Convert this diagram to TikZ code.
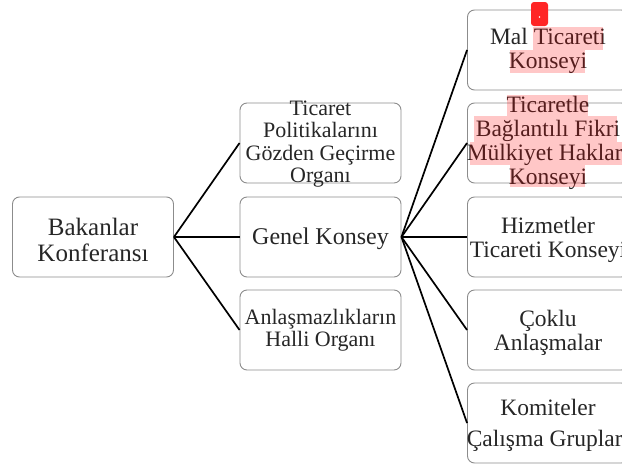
\documentclass[tikz,border=0pt]{standalone}
\usepackage{fontspec}
\setmainfont{Liberation Serif}
\begin{document}
\begin{tikzpicture}[x=1pt,y=-1pt,
  box/.style={draw=black!45,line width=0.9pt,rounded corners=7pt,minimum width=161pt,minimum height=80pt,inner sep=0pt},
  bigtxt/.style={align=center,font=\fontsize{25}{26}\selectfont,text=black!85},
  midtxt/.style={align=center,font=\fontsize{22}{22.5}\selectfont,text=black!85},
  righttxt/.style={align=center,font=\fontsize{23.5}{24}\selectfont,text=black!85},
  link/.style={line width=1.7pt,black},
  hl/.style={fill=red,opacity=0.22}]
\useasboundingbox (0,0) rectangle (622,464);
\clip (0,0) rectangle (622,464);
% boxes
\node[box] (bk) at (93,237) {};
\node[box] (tp) at (320.5,143) {};
\node[box] (gk) at (320.5,237) {};
\node[box] (ah) at (320.5,330) {};
\node[box] (mt) at (548,50) {};
\node[box] (fm) at (548,143) {};
\node[box] (ht) at (548,237) {};
\node[box] (ca) at (548,330) {};
\node[box] (kc) at (548,423) {};
% connectors
\foreach \t in {tp,gk,ah} \draw[link] (bk.east) -- (\t.west);
\foreach \t in {mt,fm,ht,ca,kc} \draw[link] (gk.east) -- (\t.west);
% texts
\node[bigtxt] (bkt) at (93,240) {Bakanlar\\Konferansı};
\node[midtxt] (tpt) at (320.5,144) {Ticaret\\Politikalarını\\Gözden Geçirme\\Organı};
\node[midtxt,font=\fontsize{24}{24}\selectfont] (gkt) at (320.5,239) {Genel Konsey};
\node[midtxt] (aht) at (320.5,330) {Anlaşmazlıkların\\Halli Organı};
\node[righttxt] (mtt) at (548,51) {Mal Ticareti\\Konseyi};
\node[righttxt] (fmt) at (548,143) {Ticaretle\\Bağlantılı Fikri\\Mülkiyet Hakları\\Konseyi};
\node[righttxt] (htt) at (548,240) {Hizmetler\\Ticareti Konseyi};
\node[righttxt] (cat) at (548,333) {Çoklu\\Anlaşmalar};
\node[righttxt,font=\fontsize{23.5}{31}\selectfont] (kct) at (548,425) {Komiteler\\Çalışma Grupları};
% highlights
\fill[hl] (533,27) rectangle (603,50);
\fill[hl] (510,50) rectangle (585,73);
\fill[hl] (507,95) rectangle (588,116);
\fill[hl] (474,116) rectangle (617,142);
\fill[hl] (470,142) rectangle (622,165);
\fill[hl] (510,165) rectangle (585,187);
\fill[red!85!white,rounded corners=3pt] (531,2) rectangle (548,26);
\fill[white] (539.5,17) circle (0.9pt);
\end{tikzpicture}
\end{document}
